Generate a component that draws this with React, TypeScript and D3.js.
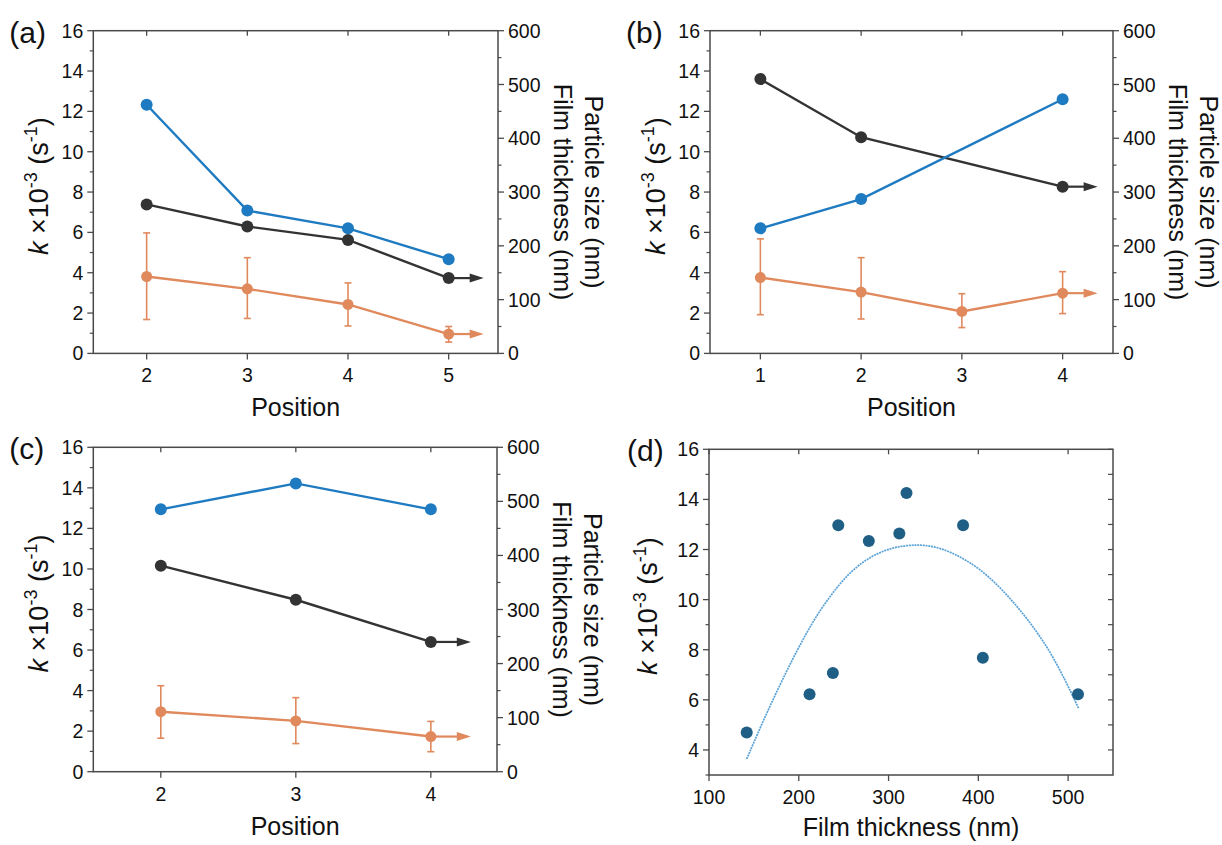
import * as d3 from "d3";

// ── Data ──────────────────────────────────────────────────────
// (a) positions 2–5
const A_POS = [2, 3, 4, 5];
const A_K = [12.33, 7.08, 6.2, 4.67];
const A_FILM = [277, 236, 211, 140];
const A_SIZE = [143, 120, 91, 36];
const A_SIZE_HI = [224, 178, 131, 50];
const A_SIZE_LO = [63, 65, 51, 21];

// (b) positions 1–4 (no k / film value at 3)
const B_POS = [1, 2, 3, 4];
const B_K_POS = [1, 2, 4];
const B_K = [6.2, 7.65, 12.6];
const B_FILM = [510, 402, 310];
const B_SIZE = [141, 114, 78, 112];
const B_SIZE_HI = [213, 178, 111, 152];
const B_SIZE_LO = [72, 64, 48, 74];

// (c) positions 2–4
const C_POS = [2, 3, 4];
const C_K = [12.94, 14.22, 12.94];
const C_FILM = [381, 318, 240];
const C_SIZE = [111, 94, 65];
const C_SIZE_HI = [159, 137, 93];
const C_SIZE_LO = [62, 52, 37];

// (d) k vs film thickness
const D_FILM = [142, 212, 238, 244, 278, 312, 320, 383, 405, 511];
const D_K = [4.7, 6.22, 7.07, 12.97, 12.34, 12.64, 14.26, 12.97, 7.68, 6.22];
// fitted curve, points
const FIT_X = [142, 165, 192, 216, 235, 254, 276, 302, 331, 357, 387, 417, 454, 484, 512];
const FIT_Y = [3.64, 5.55, 7.57, 9.17, 10.15, 11.0, 11.65, 12.08, 12.22, 12.1, 11.6, 10.8, 9.3, 7.75, 5.64];

const K_TICKS = [0, 2, 4, 6, 8, 10, 12, 14, 16];
const R_TICKS = [0, 100, 200, 300, 400, 500, 600];
const D_K_TICKS = [4, 6, 8, 10, 12, 14, 16];
const D_X_TICKS = [100, 200, 300, 400, 500];

// ── Style ─────────────────────────────────────────────────────
const FONT = "'Liberation Sans', Arial, sans-serif";
const AXIS = "#4a4a4a";
const BLUE = "#1f7bc1";
const BLACK = "#333333";
const ORANGE = "#e0895c";
const DOT = "#1f5f86";
const FIT = "#5aa2d6";
const TICK_FS = 19.5;
const TITLE_FS = 25;
const LW = 2.4;

interface DualCfg {
  tag: string;
  box: [number, number, number, number]; // left, right, top, bottom
  xDomain: [number, number];
  pos: number[];
  kPos: number[];
  k: number[];
  filmPos: number[];
  film: number[];
  size: number[];
  sizeHi: number[];
  sizeLo: number[];
  arrow: number;
}

const PANELS: DualCfg[] = [
  { tag: "(a)", box: [93.3, 498, 30.7, 353.4], xDomain: [1.47, 5.49], pos: A_POS, kPos: A_POS, k: A_K,
    filmPos: A_POS, film: A_FILM, size: A_SIZE, sizeHi: A_SIZE_HI, sizeLo: A_SIZE_LO, arrow: 35 },
  { tag: "(b)", box: [710, 1113, 30.7, 353.4], xDomain: [0.5, 4.5], pos: B_POS, kPos: B_K_POS, k: B_K,
    filmPos: B_K_POS, film: B_FILM, size: B_SIZE, sizeHi: B_SIZE_HI, sizeLo: B_SIZE_LO, arrow: 35 },
  { tag: "(c)", box: [93.3, 497, 447.3, 771.7], xDomain: [1.5, 4.49], pos: C_POS, kPos: C_POS, k: C_K,
    filmPos: C_POS, film: C_FILM, size: C_SIZE, sizeHi: C_SIZE_HI, sizeLo: C_SIZE_LO, arrow: 40 },
];

function KTitle({ x, y }: { x: number; y: number }) {
  return (
    <text transform={`translate(${x},${y}) rotate(-90)`} textAnchor="middle" fontSize={27} fill="#111">
      <tspan fontStyle="italic">k</tspan>
      <tspan> ×10</tspan>
      <tspan fontSize={18} dy={-11}>-3</tspan>
      <tspan dy={11}> (s</tspan>
      <tspan fontSize={18} dy={-11}>-1</tspan>
      <tspan dy={11}>)</tspan>
    </text>
  );
}

function Arrow({ x0, y, len, color }: { x0: number; y: number; len: number; color: string }) {
  const tip = x0 + len;
  return (
    <g>
      <line x1={x0} x2={tip - 10} y1={y} y2={y} stroke={color} strokeWidth={2.2} />
      <path d={`M${tip},${y} L${tip - 14},${y - 4.5} L${tip - 14},${y + 4.5} Z`} fill={color} />
    </g>
  );
}

function DualPanel({ p }: { p: DualCfg }) {
  const [l, r, t, b] = p.box;
  const x = d3.scaleLinear().domain(p.xDomain).range([l, r]);
  const yk = d3.scaleLinear().domain([0, 16]).range([b, t]);
  const yr = d3.scaleLinear().domain([0, 600]).range([b, t]);
  const kMinor = d3.range(1, 16, 2);
  const rMinor = d3.range(50, 600, 100);
  const line = d3.line<[number, number]>().x((d) => d[0]).y((d) => d[1]);

  const kPts: [number, number][] = p.kPos.map((v, i) => [x(v), yk(p.k[i])]);
  const fPts: [number, number][] = p.filmPos.map((v, i) => [x(v), yr(p.film[i])]);
  const sPts: [number, number][] = p.pos.map((v, i) => [x(v), yr(p.size[i])]);
  const lastF = fPts[fPts.length - 1];
  const lastS = sPts[sPts.length - 1];

  return (
    <g fontFamily={FONT}>
      {/* frame */}
      <rect x={l} y={t} width={r - l} height={b - t} fill="none" stroke={AXIS} strokeWidth={1.5} />
      {/* left ticks */}
      {K_TICKS.map((v) => (
        <g key={`k${v}`}>
          <line x1={l - 6} x2={l} y1={yk(v)} y2={yk(v)} stroke={AXIS} strokeWidth={1.3} />
          <text x={l - 10} y={yk(v)} dy="0.36em" textAnchor="end" fontSize={TICK_FS} fill="#111">{v}</text>
        </g>
      ))}
      {kMinor.map((v) => (
        <line key={`km${v}`} x1={l - 3.5} x2={l} y1={yk(v)} y2={yk(v)} stroke={AXIS} strokeWidth={1.2} />
      ))}
      {/* right ticks */}
      {R_TICKS.map((v) => (
        <g key={`r${v}`}>
          <line x1={r} x2={r + 6} y1={yr(v)} y2={yr(v)} stroke={AXIS} strokeWidth={1.3} />
          <text x={r + 10} y={yr(v)} dy="0.36em" textAnchor="start" fontSize={TICK_FS} fill="#111">{v}</text>
        </g>
      ))}
      {rMinor.map((v) => (
        <line key={`rm${v}`} x1={r} x2={r + 3.5} y1={yr(v)} y2={yr(v)} stroke={AXIS} strokeWidth={1.2} />
      ))}
      {/* x ticks */}
      {p.pos.map((v) => (
        <g key={`x${v}`}>
          <line x1={x(v)} x2={x(v)} y1={b} y2={b + 6} stroke={AXIS} strokeWidth={1.3} />
          <line x1={x(v)} x2={x(v)} y1={t} y2={t + 5} stroke={AXIS} strokeWidth={1.3} />
          <text x={x(v)} y={b + 29} textAnchor="middle" fontSize={TICK_FS} fill="#111">{v}</text>
        </g>
      ))}

      {/* particle size with error bars */}
      {p.pos.map((v, i) => (
        <g key={`e${v}`} stroke={ORANGE} strokeWidth={1.6}>
          <line x1={x(v)} x2={x(v)} y1={yr(p.sizeHi[i])} y2={yr(p.sizeLo[i])} />
          <line x1={x(v) - 3.5} x2={x(v) + 3.5} y1={yr(p.sizeHi[i])} y2={yr(p.sizeHi[i])} />
          <line x1={x(v) - 3.5} x2={x(v) + 3.5} y1={yr(p.sizeLo[i])} y2={yr(p.sizeLo[i])} />
        </g>
      ))}
      <path d={line(sPts) ?? ""} fill="none" stroke={ORANGE} strokeWidth={LW} />
      <Arrow x0={lastS[0]} y={lastS[1]} len={p.arrow} color={ORANGE} />
      {sPts.map((d, i) => <circle key={`s${i}`} cx={d[0]} cy={d[1]} r={5.5} fill={ORANGE} />)}

      {/* film thickness */}
      <path d={line(fPts) ?? ""} fill="none" stroke={BLACK} strokeWidth={LW} />
      <Arrow x0={lastF[0]} y={lastF[1]} len={p.arrow} color={BLACK} />
      {fPts.map((d, i) => <circle key={`f${i}`} cx={d[0]} cy={d[1]} r={6} fill={BLACK} />)}

      {/* rate constant */}
      <path d={line(kPts) ?? ""} fill="none" stroke={BLUE} strokeWidth={LW} />
      {kPts.map((d, i) => <circle key={`b${i}`} cx={d[0]} cy={d[1]} r={6} fill={BLUE} />)}

      {/* titles */}
      <KTitle x={l - 45} y={(t + b) / 2 - 6} />
      <text transform={`translate(${r + 56},${(t + b) / 2}) rotate(90)`} textAnchor="middle"
        fontSize={TITLE_FS} fill="#111">Film thickness (nm)</text>
      <text transform={`translate(${r + 87},${(t + b) / 2}) rotate(90)`} textAnchor="middle"
        fontSize={TITLE_FS} fill="#111">Particle size (nm)</text>
      <text x={(l + r) / 2} y={b + 63} textAnchor="middle" fontSize={TITLE_FS} fill="#111">Position</text>
      <text x={l - 84} y={t + 12} fontSize={30} fill="#111">{p.tag}</text>
    </g>
  );
}

function ScatterPanel() {
  const [l, r, t, b] = [709, 1113, 449.3, 775];
  const x = d3.scaleLinear().domain([100, 550]).range([l, r]);
  const y = d3.scaleLinear().domain([3, 16]).range([b, t]);
  const kMinor = d3.range(3, 16, 2);
  const rTicks = d3.range(4, 17, 1);
  const fit = d3
    .line<number>()
    .x((d) => x(d))
    .y((_, i) => y(FIT_Y[i]))
    .curve(d3.curveBasis);

  return (
    <g fontFamily={FONT}>
      <rect x={l} y={t} width={r - l} height={b - t} fill="none" stroke={AXIS} strokeWidth={1.5} />
      {D_K_TICKS.map((v) => (
        <g key={`k${v}`}>
          <line x1={l - 6} x2={l} y1={y(v)} y2={y(v)} stroke={AXIS} strokeWidth={1.3} />
          <text x={l - 10} y={y(v)} dy="0.36em" textAnchor="end" fontSize={TICK_FS} fill="#111">{v}</text>
        </g>
      ))}
      {kMinor.map((v) => (
        <line key={`km${v}`} x1={l - 3.5} x2={l} y1={y(v)} y2={y(v)} stroke={AXIS} strokeWidth={1.2} />
      ))}
      {rTicks.map((v) => (
        <line key={`r${v}`} x1={r - 5} x2={r} y1={y(v)} y2={y(v)} stroke={AXIS} strokeWidth={1.2} />
      ))}
      {D_X_TICKS.map((v) => (
        <g key={`x${v}`}>
          <line x1={x(v)} x2={x(v)} y1={b} y2={b + 6} stroke={AXIS} strokeWidth={1.3} />
          <line x1={x(v)} x2={x(v)} y1={t} y2={t + 5} stroke={AXIS} strokeWidth={1.3} />
          <text x={x(v)} y={b + 29} textAnchor="middle" fontSize={TICK_FS} fill="#111">{v}</text>
        </g>
      ))}

      <path d={fit(FIT_X) ?? ""} fill="none" stroke={FIT} strokeWidth={1.7} strokeDasharray="2 0.8" />
      {D_FILM.map((v, i) => (
        <circle key={`d${i}`} cx={x(v)} cy={y(D_K[i])} r={6} fill={DOT} />
      ))}

      <KTitle x={l - 52} y={(t + b) / 2 - 6} />
      <text x={(l + r) / 2} y={b + 61} textAnchor="middle" fontSize={TITLE_FS} fill="#111">Film thickness (nm)</text>
      <text x={l - 82} y={t + 12} fontSize={30} fill="#111">(d)</text>
    </g>
  );
}

export default function App() {
  return (
    <svg width={1222} height={845} style={{ position: "absolute", left: 0, top: 0, background: "#fff" }}>
      <rect width={1222} height={845} fill="#fff" />
      {PANELS.map((p) => <DualPanel key={p.tag} p={p} />)}
      <ScatterPanel />
    </svg>
  );
}
